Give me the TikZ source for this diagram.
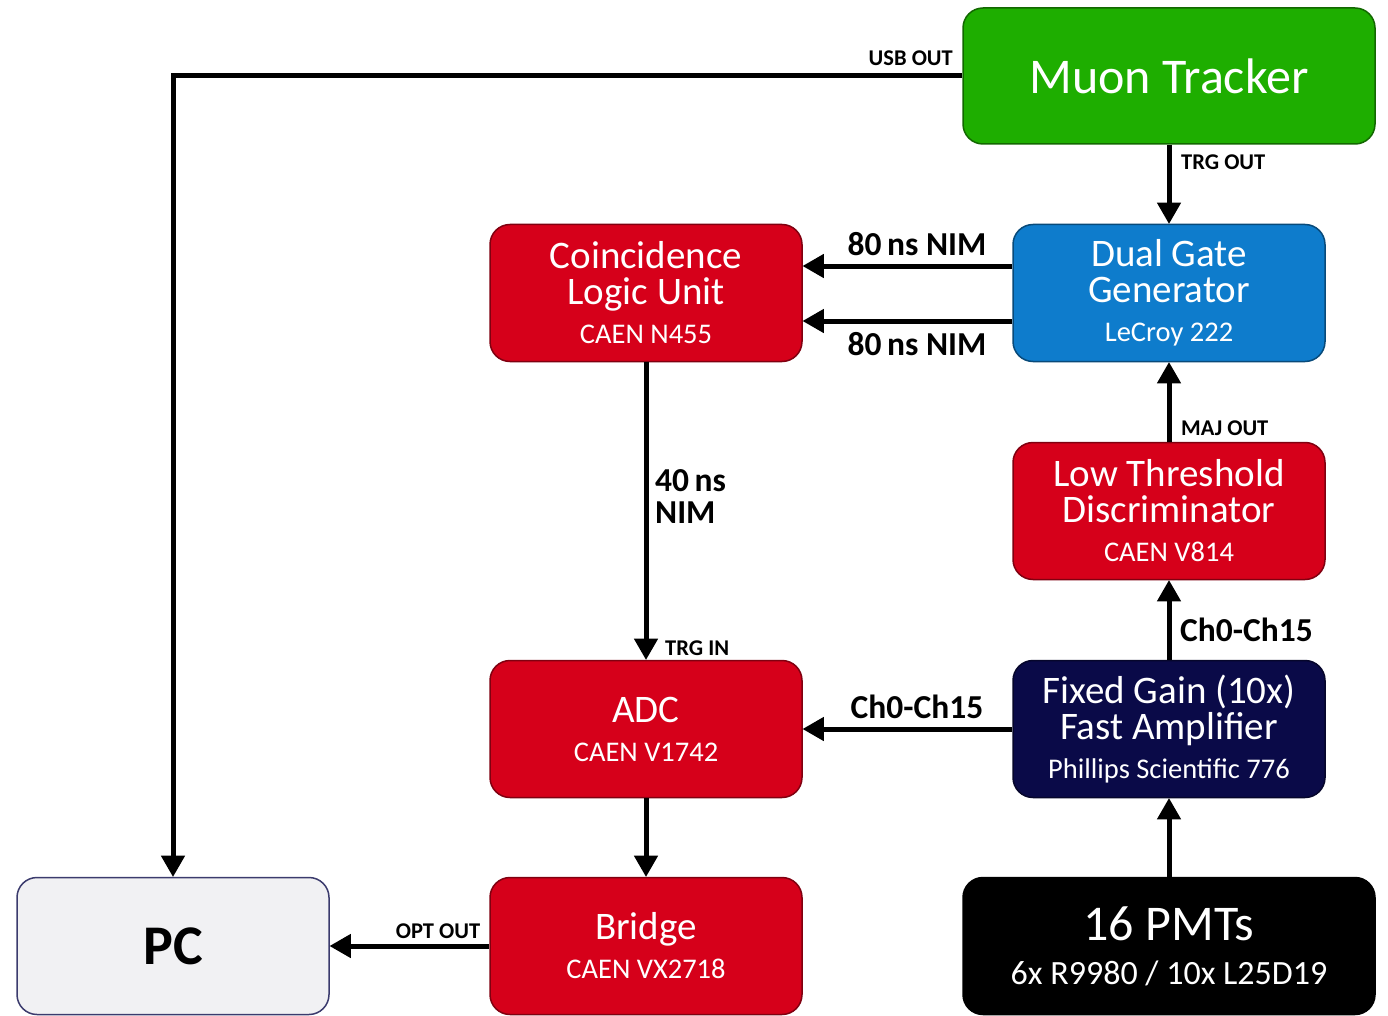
\documentclass[tikz,border=0pt]{standalone}
\usepackage{fontspec}
\setmainfont{Carlito}
\usepgflibrary{arrows}
\definecolor{tracker}{RGB}{30,174,0}
\definecolor{gate}{RGB}{14,124,204}
\definecolor{unitred}{RGB}{214,0,26}
\definecolor{ampnavy}{RGB}{10,10,72}
\definecolor{pcgray}{RGB}{241,241,243}
\newcommand\bigfont{\fontsize{50}{50}\selectfont}
\newcommand\boxfont{\fontsize{39}{36}\selectfont}
\newcommand\subfont{\fontsize{28.5}{30}\selectfont}
\newcommand\lblfont{\fontsize{33.5}{32}\selectfont\bfseries}
\newcommand\smlfont{\fontsize{22.5}{22}\selectfont\bfseries}

\begin{document}
\begin{tikzpicture}[x=1pt,y=-1pt]
\tikzstyle{every node}=[inner sep=0pt];
\tikzstyle{unit}=[draw, rounded corners=20pt, line width=1.5pt, minimum width=312pt, minimum height=137pt, align=center, text=white, font=\boxfont];
\tikzstyle{redunit}=[unit, fill=unitred, draw=unitred!60!black];
\tikzstyle{wire}=[-triangle 60, line width=5pt];
\useasboundingbox (0,0) rectangle (1388,1016);
   % boxes
   \node[unit, fill=tracker, draw=tracker!60!black, minimum width=412pt, minimum height=136pt, font=\bigfont] (muon) at (1169,76) {Muon Tracker};
   \node[unit, fill=gate, draw=gate!60!black] (dgg) at (1169,293) {Dual Gate\\Generator\\[3pt]{\subfont LeCroy 222}};
   \node[redunit] (cl) at (646,293) {Coincidence\\Logic Unit\\[3pt]{\subfont CAEN N455}};
   \node[redunit] (ltd) at (1169,511) {Low Threshold\\Discriminator\\[3pt]{\subfont CAEN V814}};
   \node[redunit] (adc) at (646,729) {ADC\\[3pt]{\subfont CAEN V1742}};
   \node[unit, fill=ampnavy, draw=ampnavy!60!black] (amp) at (1169,729) {Fixed Gain (10x)\\Fast Amplifier\\[3pt]{\subfont Phillips Scientific 776}};
   \node[redunit] (bridge) at (646,946) {Bridge\\[3pt]{\subfont CAEN VX2718}};
   \node[unit, fill=pcgray, draw=ampnavy!80, text=black, font=\fontsize{56}{56}\selectfont\bfseries] (pc) at (173,946) {PC};
   \node[unit, fill=black, draw=black, minimum width=412pt, font=\fontsize{50}{50}\selectfont] (pmt) at (1169,946) {16 PMTs\\[-6pt]{\fontsize{34}{34}\selectfont 6x R9980 / 10x L25D19}};
   % connections
  \foreach \from/\to in {muon/dgg, ltd/dgg, amp/ltd, pmt/amp, cl/adc, adc/bridge, amp/adc, bridge/pc}
    \draw[wire] (\from) -- (\to);
   \draw[wire] ([yshift=27pt]dgg.west) -- ([yshift=27pt]cl.east);
   \draw[wire] ([yshift=-28pt]dgg.west) -- ([yshift=-28pt]cl.east);
   \draw[wire] (muon.west) -| (pc.north);
   % labels
   \node[font=\smlfont, anchor=east] (usb) at (953,58) {USB OUT};
   \node[font=\smlfont, anchor=west] (trgout) at (1181,162) {TRG OUT};
   \node[font=\smlfont, anchor=west] (majout) at (1181,428) {MAJ OUT};
   \node[font=\smlfont, anchor=west] (trgin) at (665,648) {TRG IN};
   \node[font=\smlfont] (optout) at (438,931) {OPT OUT};
   \node[font=\lblfont] (nima) at (917,244) {80\,ns NIM};
   \node[font=\lblfont] (nimb) at (917,344) {80\,ns NIM};
   \node[font=\lblfont, anchor=west, align=left] (nimc) at (655,497) {40\,ns\\NIM};
   \node[font=\lblfont, anchor=west] (chup) at (1180,630) {Ch0-Ch15};
   \node[font=\lblfont] (chleft) at (917,707) {Ch0-Ch15};
\end{tikzpicture}
\end{document}
